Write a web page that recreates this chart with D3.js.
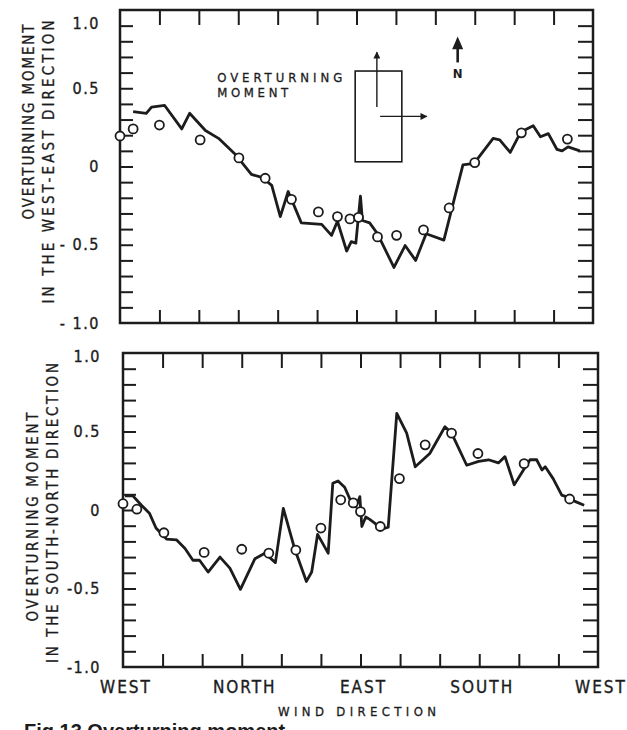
<!DOCTYPE html>
<html>
<head>
<meta charset="utf-8">
<script src="https://cdn.jsdelivr.net/npm/d3@7"></script>
<style>
  body { margin: 0; background: #fff; }
  svg text { font-family: "DejaVu Sans Condensed", "Liberation Sans Narrow", "DejaVu Sans", sans-serif; fill: #1c1c1c; }
</style>
</head>
<body>
<svg id="chart" width="627" height="730"></svg>
<script>
// wind direction in degrees: 0 = WEST, 90 = NORTH, 180 = EAST, 270 = SOUTH, 360 = WEST
const dirLabels = ["WEST", "NORTH", "EAST", "SOUTH", "WEST"];
const dirLabelDeg = [0, 90, 180, 270, 360];
const yLabelVals = [1, 0.5, 0, -0.5, -1];
const weYLabels = ["1.0", "0.5", "0", "- 0.5", "- 1.0"];
const snYLabels = ["1.0", "0.5", "0", "-0.5", "-1.0"];

// west-east overturning moment, solid curve [deg, value]
const weLine = [[10,0.35],[20,0.34],[24,0.38],[34,0.39],[47,0.24],[53,0.34],[65,0.23],[75,0.18],
  [87.5,0.08],[100,-0.05],[108,-0.07],[115.5,-0.12],[122,-0.32],[128,-0.16],[138,-0.36],[153.5,-0.37],
  [161,-0.44],[165.5,-0.35],[172.5,-0.54],[176,-0.48],[179.5,-0.49],[183,-0.19],[184.5,-0.345],[190,-0.36],
  [196,-0.43],[208.5,-0.645],[217,-0.505],[225,-0.6],[233,-0.43],[246.5,-0.47],[261,0.01],[269.5,0.02],
  [284,0.18],[289,0.17],[297,0.09],[305,0.22],[314.5,0.26],[320,0.19],[326,0.21],[332.5,0.11],
  [336.5,0.1],[341,0.125],[350,0.1]];
// west-east, open circles
const weObs = [[0,0.195],[10,0.24],[30,0.265],[61,0.17],[90.5,0.055],[110.5,-0.075],[130.5,-0.21],
  [151,-0.29],[165.5,-0.32],[175,-0.335],[181.5,-0.325],[196,-0.45],[210.5,-0.44],[231,-0.405],
  [250.5,-0.265],[270,0.025],[305.5,0.215],[340.5,0.175]];

// south-north overturning moment, solid curve
const snLine = [[1.5,0.09],[7.5,0.09],[14,0.03],[20,-0.02],[25,-0.115],[33,-0.185],[40.5,-0.19],[47,-0.245],
  [53,-0.32],[58,-0.32],[64.5,-0.395],[73.5,-0.3],[81,-0.37],[89,-0.505],[100,-0.31],[107.5,-0.275],
  [115.5,-0.335],[121.5,0.01],[130,-0.245],[139,-0.455],[143,-0.395],[147.5,-0.155],[155.5,-0.275],
  [159,0.17],[163,0.185],[168,0.145],[173,0.05],[176.5,0.02],[179.5,0.085],[181,-0.105],[184,-0.045],
  [187,-0.06],[191,-0.085],[195,-0.125],[201,-0.11],[207.5,0.615],[215,0.49],[221.5,0.275],[232.5,0.36],
  [244,0.53],[249,0.49],[260.5,0.285],[269.5,0.31],[277,0.32],[284.5,0.3],[289.5,0.34],[296.5,0.16],
  [303.5,0.255],[308.5,0.32],[313.5,0.32],[317.5,0.255],[320,0.275],[326,0.2],[332.5,0.095],
  [337.5,0.08],[342.5,0.055],[349.5,0.03]];
// south-north, open circles
const snObs = [[0,0.04],[10.5,0.005],[31,-0.145],[61.5,-0.27],[90,-0.25],[110.5,-0.275],[131,-0.255],
  [150,-0.115],[165,0.065],[174.5,0.045],[180,-0.01],[195,-0.105],[209.5,0.2],[229,0.415],[249,0.49],
  [269,0.36],[304,0.295],[338.5,0.07]];

const svg = d3.select("#chart");
const ink = "#1c1c1c";

const panels = [
  { l: 120, r: 593, t: 10, b: 323, line: weLine, obs: weObs, yLabels: weYLabels, labelPad: 20, topShift: 13,
    title: [{ text: "OVERTURNING MOMENT", x: 34, cy: 122, len: 195 },
            { text: "IN THE WEST-EAST DIRECTION", x: 54, cy: 162, len: 283 }] },
  { l: 123, r: 598, t: 353, b: 667, line: snLine, obs: snObs, yLabels: snYLabels, labelPad: 22, topShift: 3,
    title: [{ text: "OVERTURNING MOMENT", x: 38, cy: 517, len: 209 },
            { text: "IN THE SOUTH-NORTH DIRECTION", x: 58, cy: 513, len: 300 }] }
];

function drawPanel(p) {
  const x = d3.scaleLinear().domain([0, 360]).range([p.l, p.r]);
  const y = d3.scaleLinear().domain([-1, 1]).range([p.b, p.t]);
  const g = svg.append("g");

  const minorY = d3.range(-9, 10).map(i => i / 10);
  const innerX = d3.range(30, 360, 30);

  function tickStyle(sel) {
    sel.select(".domain").remove();
    sel.selectAll(".tick line").attr("stroke", ink).attr("stroke-width", 2);
  }

  g.append("g").attr("transform", `translate(${p.l},0)`)
    .call(d3.axisRight(y).tickValues(minorY).tickSize(13).tickFormat(""))
    .call(tickStyle);
  g.append("g").attr("transform", `translate(${p.r},0)`)
    .call(d3.axisLeft(y).tickValues(minorY).tickSize(15).tickFormat(""))
    .call(tickStyle);
  g.append("g").attr("transform", `translate(0,${p.t})`)
    .call(d3.axisBottom(x).tickValues(innerX).tickSize(15).tickFormat(""))
    .call(tickStyle);
  g.append("g").attr("transform", `translate(0,${p.b})`)
    .call(d3.axisTop(x).tickValues(innerX).tickSize(13).tickFormat(""))
    .call(tickStyle);

  // y tick labels
  const yl = g.append("g").attr("transform", `translate(${p.l},0)`)
    .call(d3.axisLeft(y).tickValues(yLabelVals).tickSize(0).tickPadding(p.labelPad)
      .tickFormat((d, i) => p.yLabels[i]));
  yl.attr("font-family", null).attr("font-size", null);
  yl.select(".domain").remove();
  yl.selectAll("text").attr("font-size", 16).attr("letter-spacing", 1.5).attr("fill", ink)
    .attr("stroke", ink).attr("stroke-width", 0.35);
  yl.selectAll(".tick").filter(d => d === 1).select("text").attr("y", p.topShift);

  // frame
  g.append("rect").attr("x", p.l).attr("y", p.t).attr("width", p.r - p.l).attr("height", p.b - p.t)
    .attr("fill", "none").attr("stroke", ink).attr("stroke-width", 2.5);

  // curve
  g.append("path").datum(p.line)
    .attr("d", d3.line().x(d => x(d[0])).y(d => y(d[1])))
    .attr("fill", "none").attr("stroke", ink).attr("stroke-width", 2.8)
    .attr("stroke-linejoin", "round");

  // circles
  g.selectAll("circle.obs").data(p.obs).enter().append("circle")
    .attr("class", "obs")
    .attr("cx", d => x(d[0])).attr("cy", d => y(d[1])).attr("r", 4.5)
    .attr("fill", "#fff").attr("stroke", ink).attr("stroke-width", 1.8);

  // axis title
  p.title.forEach(t => {
    svg.append("text")
      .attr("transform", `translate(${t.x},${t.cy}) rotate(-90)`)
      .attr("text-anchor", "middle")
      .attr("font-size", 15)
      .attr("stroke", ink).attr("stroke-width", 0.3)
      .attr("textLength", t.len).attr("lengthAdjust", "spacing")
      .text(t.text);
  });

  return { x, y };
}

const upper = drawPanel(panels[0]);
const lower = drawPanel(panels[1]);

// direction labels under the lower panel
svg.append("g").selectAll("text").data(dirLabels).enter().append("text")
  .attr("x", (d, i) => lower.x(dirLabelDeg[i]) + 3)
  .attr("y", 693)
  .attr("text-anchor", "middle")
  .attr("font-size", 17)
  .attr("letter-spacing", 2)
  .attr("stroke", ink).attr("stroke-width", 0.35)
  .text(d => d);

svg.append("text").attr("x", 357).attr("y", 716).attr("text-anchor", "middle")
  .attr("font-size", 13).attr("textLength", 158).attr("lengthAdjust", "spacing")
  .attr("stroke", ink).attr("stroke-width", 0.3)
  .text("WIND DIRECTION");

// inset sketch in the upper panel (placed in data units)
const insetText = ["OVERTURNING", "MOMENT"];
const insetTextVal = [0.54, 0.443];
const insetTextLen = [125, 71];
svg.append("g").selectAll("text").data(insetText).enter().append("text")
  .attr("x", upper.x(74)).attr("y", (d, i) => upper.y(insetTextVal[i]))
  .attr("font-size", 13)
  .attr("stroke", ink).attr("stroke-width", 0.3)
  .attr("textLength", (d, i) => insetTextLen[i]).attr("lengthAdjust", "spacing")
  .text(d => d);

const defs = svg.append("defs");
defs.append("marker").attr("id", "head").attr("viewBox", "0 0 10 10")
  .attr("refX", 9).attr("refY", 5).attr("markerWidth", 7).attr("markerHeight", 5)
  .attr("orient", "auto")
  .append("path").attr("d", "M0,0 L10,5 L0,10 Z").attr("fill", ink);

svg.append("rect")
  .attr("x", upper.x(179)).attr("y", upper.y(0.61))
  .attr("width", upper.x(214.5) - upper.x(179)).attr("height", upper.y(0.03) - upper.y(0.61))
  .attr("fill", "none").attr("stroke", ink).attr("stroke-width", 1.6);
svg.append("line")
  .attr("x1", upper.x(195.5)).attr("y1", upper.y(0.38)).attr("x2", upper.x(195.5)).attr("y2", upper.y(0.73))
  .attr("stroke", ink).attr("stroke-width", 1.4).attr("marker-end", "url(#head)");
svg.append("line")
  .attr("x1", upper.x(198)).attr("y1", upper.y(0.32)).attr("x2", upper.x(233.5)).attr("y2", upper.y(0.32))
  .attr("stroke", ink).attr("stroke-width", 1.4).attr("marker-end", "url(#head)");

// north arrow
svg.append("line")
  .attr("x1", upper.x(257)).attr("y1", upper.y(0.665)).attr("x2", upper.x(257)).attr("y2", upper.y(0.81))
  .attr("stroke", ink).attr("stroke-width", 2.6);
svg.append("path")
  .attr("d", `M${upper.x(257) - 5.5},${upper.y(0.75)} L${upper.x(257)},${upper.y(0.83)} L${upper.x(257) + 5.5},${upper.y(0.75)} Z`)
  .attr("fill", ink);
svg.append("text").attr("x", upper.x(257)).attr("y", upper.y(0.565)).attr("text-anchor", "middle")
  .attr("font-size", 13).attr("font-weight", "bold").text("N");

// figure caption, cut off at the bottom edge as in the source scan
svg.append("text").attr("x", 24).attr("y", 738)
  .attr("font-size", 20).attr("font-weight", "bold")
  .style("font-family", "'Liberation Sans', Arial, sans-serif")
  .text("Fig.13  Overturning moment");
</script>
</body>
</html>
